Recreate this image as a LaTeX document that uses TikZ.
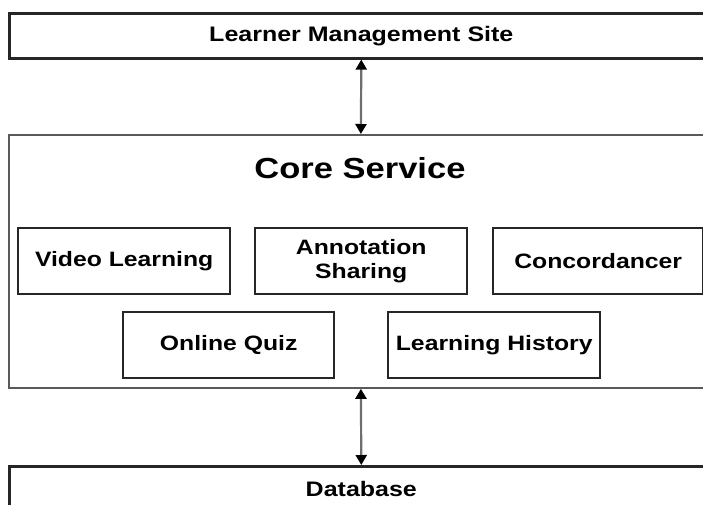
\documentclass[tikz,border=0pt]{standalone}
\usepackage{fontspec}
\setmainfont{Liberation Sans}[FakeStretch=1.19]
\usetikzlibrary{arrows.meta}

\definecolor{edgedark}{HTML}{262626}
\definecolor{edgecore}{HTML}{5A5A5A}
\definecolor{arrowgray}{HTML}{6E6E6E}

\tikzset{
  outerbox/.style={draw=edgedark, line width=2.6pt, fill=white, inner sep=0pt,
    anchor=north west, font=\bfseries\fontsize{21}{24}\selectfont},
  corebox/.style={draw=edgecore, line width=1.8pt, fill=white, inner sep=0pt, anchor=north west},
  modbox/.style={draw=edgedark, line width=2.4pt, fill=white, inner sep=0pt,
    anchor=north west, minimum width=211pt, minimum height=66pt,
    align=center, font=\bfseries\fontsize{20.8}{24}\selectfont},
  link/.style={draw=arrowgray, line width=2.2pt,
    {Triangle[length=10pt,width=11pt,color=black]}-{Triangle[length=10pt,width=11pt,color=black]}}
}

\begin{document}
\begin{tikzpicture}[x=1pt,y=-1pt]
  \useasboundingbox (0,0) rectangle (703,504);
  \clip (0,0) rectangle (703,504);

  % outer layers
  \node[outerbox, minimum width=704pt, minimum height=45pt] (lms) at (8,12) {Learner Management Site};
  \node[corebox, minimum width=704pt, minimum height=253pt] (core) at (8,134) {};
  \node[font=\bfseries\fontsize{29}{34}\selectfont] (coretitle) at (360,168) {Core Service};
  \node[outerbox, minimum width=704pt, minimum height=45pt] (db) at (8,465) {Database};

  % service modules
  \node[modbox, minimum width=212pt] (video) at (17,227) {Video Learning};
  \node[modbox, minimum width=212pt] (annot) at (254,227) {Annotation\\[0pt]Sharing};
  \node[modbox, minimum width=210pt] (conc) at (492,227) {Concordancer};
  \node[modbox] (quiz) at (122,311) {Online Quiz};
  \node[modbox, minimum width=212pt] (hist) at (387,311) {Learning History};

  % connections between layers
  \draw[link] (lms.south) -- (core.north);
  \draw[link] (core.south) -- (db.north);
\end{tikzpicture}
\end{document}
